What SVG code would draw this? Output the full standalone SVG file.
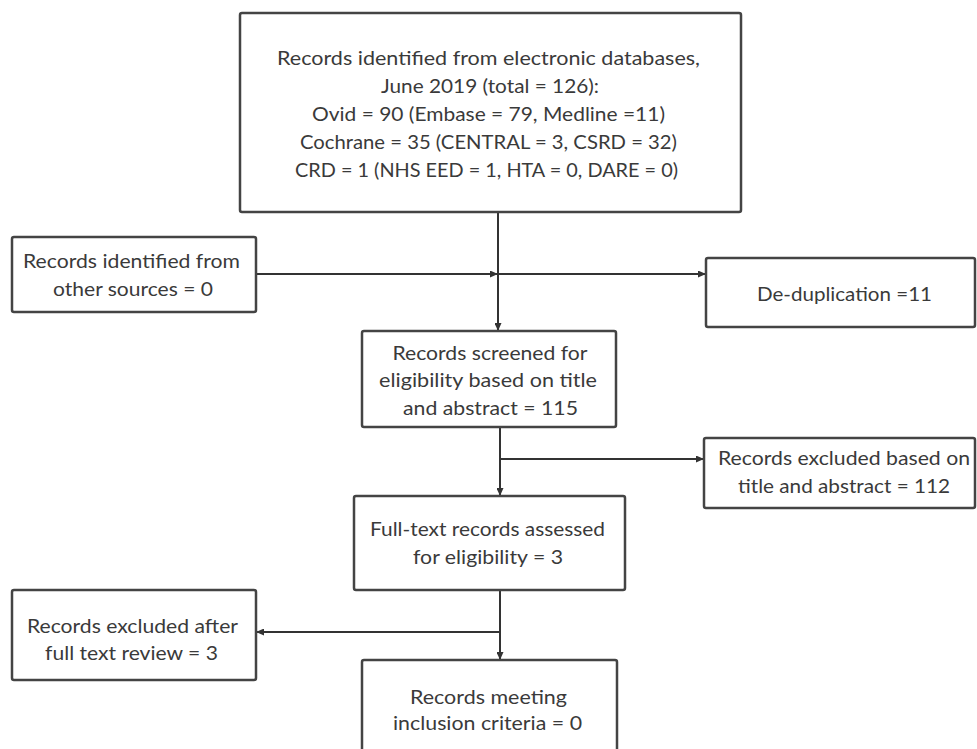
<svg xmlns="http://www.w3.org/2000/svg" width="977" height="749" viewBox="0 0 977 749">
  <defs>
    <marker id="arrow" viewBox="0 0 8 7" markerWidth="8" markerHeight="7" refX="8" refY="3.5" orient="auto" markerUnits="userSpaceOnUse">
      <path d="M0,0 L8,3.5 L0,7 z" fill="#333"/>
    </marker>
    <style>
      .box { fill: #fff; stroke: #444; stroke-width: 2.5; }
      .lbl { font-family: Lato, "Liberation Sans", sans-serif; font-size: 20px; fill: #3a3a3a; text-anchor: middle; }
      .conn { fill: none; stroke: #333; stroke-width: 2; }
    </style>
  </defs>
  <rect width="977" height="749" fill="#fff"/>

  <!-- flow connectors -->
  <g id="connectors">
    <line class="conn" x1="498" y1="212" x2="498" y2="331" marker-end="url(#arrow)"/>
    <line class="conn" x1="256" y1="274" x2="498" y2="274" marker-end="url(#arrow)"/>
    <line class="conn" x1="498" y1="274" x2="706" y2="274" marker-end="url(#arrow)"/>
    <line class="conn" x1="500" y1="427" x2="500" y2="496" marker-end="url(#arrow)"/>
    <line class="conn" x1="500" y1="459" x2="704" y2="459" marker-end="url(#arrow)"/>
    <line class="conn" x1="500" y1="590" x2="500" y2="660" marker-end="url(#arrow)"/>
    <line class="conn" x1="500" y1="632" x2="256" y2="632" marker-end="url(#arrow)"/>
  </g>

  <g id="databases">
    <rect class="box" x="240" y="13" width="501" height="199" rx="2"/>
    <text class="lbl" x="488.5" y="65" textLength="423" lengthAdjust="spacingAndGlyphs">Records identified from electronic databases,</text>
    <text class="lbl" x="490" y="93" textLength="218" lengthAdjust="spacingAndGlyphs">June 2019 (total = 126):</text>
    <text class="lbl" x="488.5" y="121" textLength="353" lengthAdjust="spacingAndGlyphs">Ovid = 90 (Embase = 79, Medline =11)</text>
    <text class="lbl" x="488.5" y="149" textLength="377" lengthAdjust="spacingAndGlyphs">Cochrane = 35 (CENTRAL = 3, CSRD = 32)</text>
    <text class="lbl" x="486.5" y="177" textLength="383" lengthAdjust="spacingAndGlyphs">CRD = 1 (NHS EED = 1, HTA = 0, DARE = 0)</text>
  </g>

  <g id="other-sources">
    <rect class="box" x="12" y="237" width="244" height="75" rx="2"/>
    <text class="lbl" x="131.5" y="268" textLength="217" lengthAdjust="spacingAndGlyphs">Records identified from</text>
    <text class="lbl" x="133" y="296" textLength="160" lengthAdjust="spacingAndGlyphs">other sources = 0</text>
  </g>

  <g id="deduplication">
    <rect class="box" x="706" y="258" width="269" height="69" rx="2"/>
    <text class="lbl" x="844.5" y="301" textLength="175" lengthAdjust="spacingAndGlyphs">De-duplication =11</text>
  </g>

  <g id="screened">
    <rect class="box" x="362" y="331" width="254" height="96" rx="2"/>
    <text class="lbl" x="490" y="360" textLength="195" lengthAdjust="spacingAndGlyphs">Records screened for</text>
    <text class="lbl" x="488" y="387" textLength="218" lengthAdjust="spacingAndGlyphs">eligibility based on title</text>
    <text class="lbl" x="490.5" y="415" textLength="175" lengthAdjust="spacingAndGlyphs">and abstract = 115</text>
  </g>

  <g id="excluded-title-abstract">
    <rect class="box" x="704" y="438" width="271" height="70" rx="2"/>
    <text class="lbl" x="844" y="465" textLength="252" lengthAdjust="spacingAndGlyphs">Records excluded based on</text>
    <text class="lbl" x="844" y="493" textLength="212" lengthAdjust="spacingAndGlyphs">title and abstract = 112</text>
  </g>

  <g id="full-text">
    <rect class="box" x="354" y="496" width="271" height="94" rx="2"/>
    <text class="lbl" x="487.5" y="536" textLength="235" lengthAdjust="spacingAndGlyphs">Full-text records assessed</text>
    <text class="lbl" x="488" y="564" textLength="150" lengthAdjust="spacingAndGlyphs">for eligibility = 3</text>
  </g>

  <g id="excluded-full-text">
    <rect class="box" x="12" y="590" width="244" height="90" rx="2"/>
    <text class="lbl" x="132.5" y="633" textLength="211" lengthAdjust="spacingAndGlyphs">Records excluded after</text>
    <text class="lbl" x="131.5" y="660" textLength="173" lengthAdjust="spacingAndGlyphs">full  text review = 3</text>
  </g>

  <g id="included">
    <rect class="box" x="362" y="660" width="255" height="95" rx="2"/>
    <text class="lbl" x="488.5" y="704" textLength="157" lengthAdjust="spacingAndGlyphs">Records meeting</text>
    <text class="lbl" x="487.5" y="730" textLength="189" lengthAdjust="spacingAndGlyphs">inclusion  criteria = 0</text>
  </g>
</svg>
